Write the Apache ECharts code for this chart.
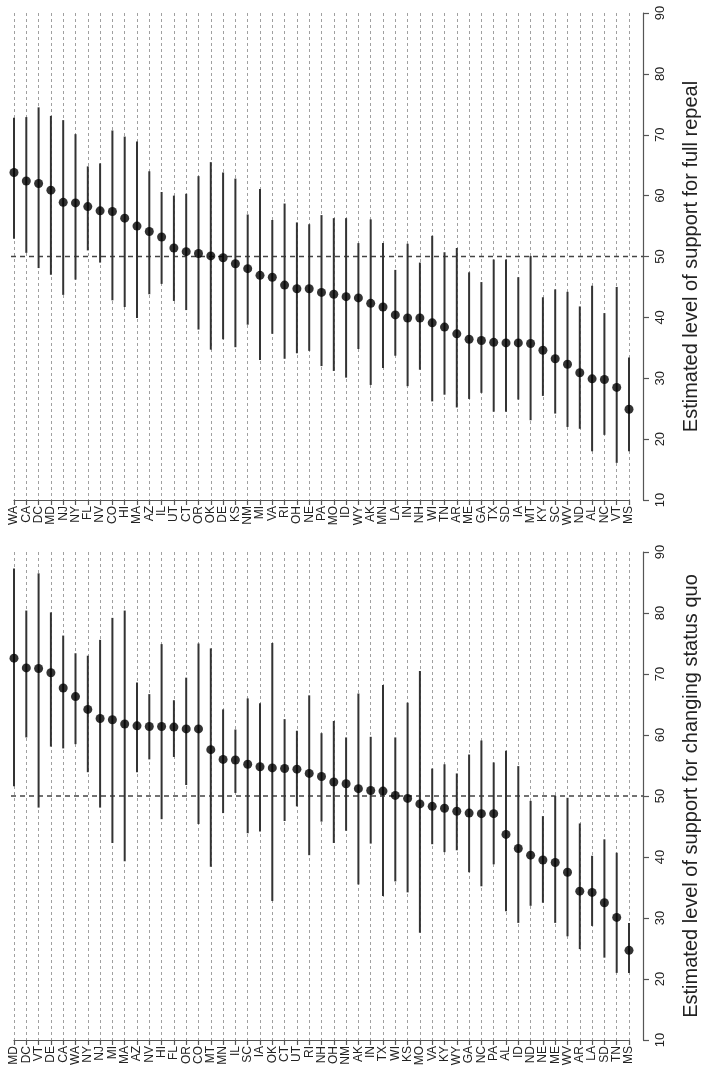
<!DOCTYPE html>
<html>
<head>
<meta charset="utf-8">
<script src="https://cdn.jsdelivr.net/npm/echarts@6/dist/echarts.min.js"></script>
<style>
  html, body { margin: 0; padding: 0; background: #fff; }
  #chart { width: 709px; height: 1070px; }
</style>
</head>
<body>
<div id="chart"></div>
<script>
// top panel: full repeal
const repealStates = ['WA','CA','DC','MD','NJ','NY','FL','NV','CO','HI','MA','AZ','IL','UT','CT','OR','OK','DE','KS','NM','MI','VA','RI','OH','NE','PA','MO','ID','WY','AK','MN','LA','IN','NH','WI','TN','AR','ME','GA','TX','SD','IA','MT','KY','SC','WV','ND','AL','NC','VT','MS'];
const repealMean = [63.8,62.4,62.0,60.9,58.9,58.8,58.2,57.5,57.4,56.3,55.0,54.1,53.2,51.4,50.8,50.5,50.1,49.8,48.8,48.0,46.9,46.6,45.3,44.7,44.7,44.1,43.8,43.4,43.2,42.3,41.7,40.4,39.9,39.9,39.1,38.4,37.3,36.4,36.2,35.9,35.8,35.8,35.7,34.6,33.2,32.3,30.9,29.9,29.8,28.5,24.9];
const repealLow = [52.9,50.6,48.1,47.0,43.7,46.2,51.0,49.0,42.8,41.7,39.9,43.8,45.5,42.7,41.2,38.0,34.7,36.4,35.1,38.8,33.0,37.3,33.2,34.1,34.5,32.0,31.2,30.1,34.8,28.9,31.7,33.7,28.7,31.4,26.2,27.3,25.2,26.6,27.6,24.5,24.5,26.5,23.1,27.1,24.2,22.0,21.7,18.0,20.7,16.1,18.0];
const repealHigh = [72.8,72.9,74.5,73.1,72.4,70.1,64.8,65.3,70.7,69.7,68.9,64.0,60.6,60.0,60.3,63.2,65.5,63.8,62.8,56.9,61.1,56.0,58.7,55.6,55.3,56.8,56.3,56.3,52.2,56.1,52.2,47.8,52.1,49.0,53.4,50.7,51.4,47.4,45.8,49.5,49.5,46.6,50.1,43.3,44.6,44.2,41.8,45.2,40.7,45.0,33.4];

// bottom panel: changing status quo
const changeStates = ['MD','DC','VT','DE','CA','WA','NY','NJ','MI','MA','AZ','NV','HI','FL','OR','CO','MT','MN','IL','SC','IA','OK','CT','UT','RI','NH','OH','NM','AK','IN','TX','WI','KS','MO','VA','KY','WY','GA','NC','PA','AL','ID','ND','NE','ME','WV','AR','LA','SD','TN','MS'];
const changeMean = [72.6,71.0,70.9,70.2,67.7,66.3,64.2,62.7,62.5,61.8,61.5,61.4,61.4,61.3,61.0,61.0,57.6,56.0,55.9,55.2,54.8,54.6,54.5,54.4,53.7,53.2,52.3,52.0,51.2,50.9,50.8,50.1,49.6,48.7,48.3,48.0,47.5,47.2,47.1,47.1,43.7,41.4,40.3,39.5,39.1,37.5,34.4,34.2,32.5,30.1,24.7];
const changeLow = [51.6,59.6,48.1,58.1,57.8,58.5,53.9,48.1,42.3,39.3,53.9,56.0,46.2,56.4,51.8,45.4,38.4,47.2,50.5,43.9,44.2,32.8,45.9,48.3,40.3,45.8,42.3,44.3,35.5,42.2,33.6,36.0,34.2,27.6,42.1,40.8,41.1,37.5,35.2,38.8,31.1,29.2,32.0,32.5,29.2,27.0,24.9,28.7,23.5,21.0,21.0];
const changeHigh = [87.3,80.4,86.5,80.1,76.3,73.4,73.0,75.6,79.2,80.4,68.6,66.7,74.9,65.7,69.4,75.0,74.2,64.2,60.9,66.0,65.2,75.1,62.6,60.7,66.5,60.3,62.3,59.6,66.8,59.7,68.2,59.6,65.3,70.5,54.5,55.2,53.7,56.8,59.1,55.5,57.4,54.9,49.2,46.7,50.0,49.7,45.5,40.2,42.9,40.7,29.2];

const referenceLevel = 50;

const font = '"Liberation Sans", Arial, Helvetica, sans-serif';

const chartDom = document.getElementById('chart');
const myChart = echarts.init(chartDom, null, { renderer: 'canvas' });

// panel vertical placement
const panels = [
  { top: 13, height: 487, states: repealStates, mean: repealMean, low: repealLow, high: repealHigh,
    title: 'Estimated level of support for full repeal' },
  { top: 552, height: 488, states: changeStates, mean: changeMean, low: changeLow, high: changeHigh,
    title: 'Estimated level of support for changing status quo' }
];

const grid = [];
const xAxis = [];
const yAxis = [];
const series = [];

panels.forEach((p, k) => {
  const gData = k * 2;      // grid with the states
  const gAxis = k * 2 + 1;  // wider grid carrying the value axis and the 50 line

  grid.push({ left: 14, width: 615, top: p.top, height: p.height });
  grid.push({ left: 11, width: 642, top: p.top, height: p.height });

  xAxis.push({
    type: 'category',
    gridIndex: gData,
    data: p.states,
    boundaryGap: false,
    axisLine: { onZero: false, lineStyle: { color: '#555', width: 1.2 } },
    axisTick: { interval: 0, length: 5, lineStyle: { color: '#555', width: 1.2 } },
    axisLabel: {
      interval: 0, rotate: 90, margin: 6,
      fontFamily: font, fontSize: 12, color: '#222'
    },
    splitLine: {
      show: true, interval: 0,
      lineStyle: { color: '#a0a0a0', width: 1, type: [3, 3] }
    }
  });
  xAxis.push({
    type: 'value', gridIndex: gAxis, min: 0, max: 1, show: false
  });

  yAxis.push({
    type: 'value', gridIndex: gData, min: 10, max: 90, interval: 10, show: false
  });
  yAxis.push({
    type: 'value',
    gridIndex: gAxis,
    position: 'right',
    min: 10, max: 90, interval: 10,
    name: p.title,
    nameLocation: 'middle',
    nameRotate: 90,
    nameGap: 38,
    nameTextStyle: { fontFamily: font, fontSize: 20, color: '#222' },
    axisLine: { show: true, onZero: false, lineStyle: { color: '#555', width: 1.2 } },
    axisTick: { show: true, length: 6, lineStyle: { color: '#555', width: 1.2 } },
    axisLabel: {
      rotate: 90, margin: 11,
      fontFamily: font, fontSize: 13, color: '#222'
    },
    splitLine: { show: false }
  });

  series.push({
    type: 'line',
    xAxisIndex: gAxis,
    yAxisIndex: gAxis,
    data: [[0, referenceLevel], [1, referenceLevel]],
    symbol: 'none',
    silent: true,
    lineStyle: { color: '#444', width: 1.4, type: [5, 4] },
    z: 1
  });

  series.push({
    type: 'custom',
    xAxisIndex: gData,
    yAxisIndex: gData,
    data: p.states.map((s, i) => [i, p.low[i], p.high[i]]),
    encode: { x: 0, y: [1, 2] },
    renderItem: function (params, api) {
      const a = api.coord([api.value(0), api.value(1)]);
      const b = api.coord([api.value(0), api.value(2)]);
      return {
        type: 'line',
        shape: { x1: a[0], y1: a[1], x2: b[0], y2: b[1] },
        style: { stroke: '#333', lineWidth: 2 }
      };
    },
    z: 2
  });

  series.push({
    type: 'scatter',
    xAxisIndex: gData,
    yAxisIndex: gData,
    data: p.mean,
    symbol: 'circle',
    symbolSize: 9,
    itemStyle: { color: '#000' },
    z: 3
  });
});

const option = {
  backgroundColor: '#fff',
  animation: false,
  grid: grid,
  xAxis: xAxis,
  yAxis: yAxis,
  series: series
};

option && myChart.setOption(option);
</script>
</body>
</html>
